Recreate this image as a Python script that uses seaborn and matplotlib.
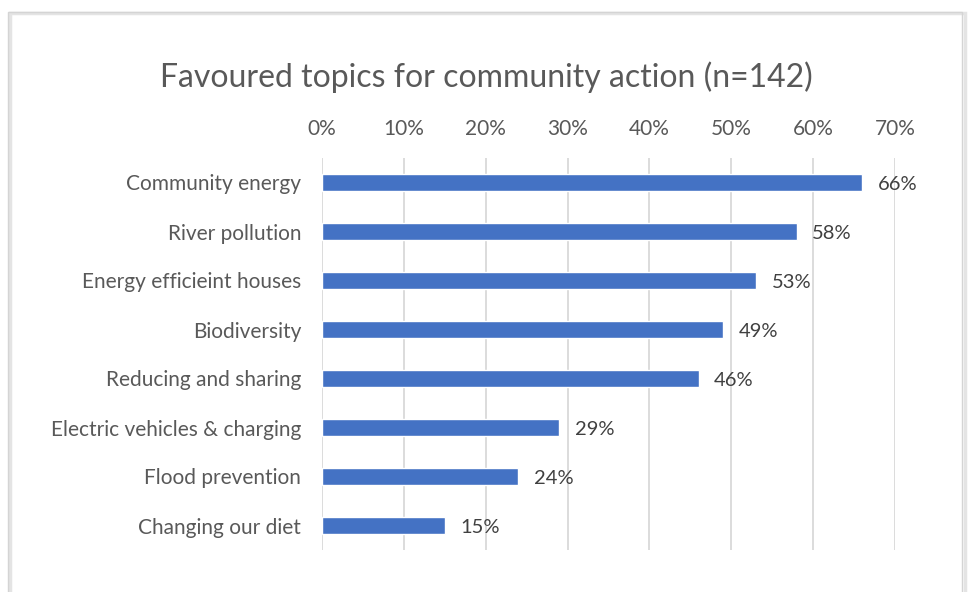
"""
Favoured topics for community action - horizontal bar chart
"""
import matplotlib
matplotlib.use("Agg")
import matplotlib.pyplot as plt
import matplotlib.patches as mpatches
import pandas as pd
import seaborn as sns
from matplotlib.ticker import PercentFormatter

topics = [
    "Community energy",
    "River pollution",
    "Energy efficieint houses",
    "Biodiversity",
    "Reducing and sharing",
    "Electric vehicles & charging",
    "Flood prevention",
    "Changing our diet",
]
shares = [66, 58, 53, 49, 46, 29, 24, 15]

BAR = "#4472C4"
GREY_TXT = "#595959"
GRID = "#d9d9d9"

sns.set_theme(style="white")
plt.rcParams["font.family"] = ["Lato", "DejaVu Sans"]

df = pd.DataFrame({"topic": topics, "share": shares})

fig = plt.figure(figsize=(9.68, 5.92), dpi=100, facecolor="white")

# chart frame with soft shadow (drawn as outlines only)
fig.patches.append(mpatches.Rectangle((10 / 968, -0.02), 955 / 968, 1 - 13 / 592 + 0.02,
                                      transform=fig.transFigure, fill=False,
                                      edgecolor="#e4e4e4", linewidth=2.5))
fig.patches.append(mpatches.Rectangle((8 / 968, -0.02), 954 / 968, 1 - 12 / 592 + 0.02,
                                      transform=fig.transFigure, fill=False,
                                      edgecolor="#d4d4d4", linewidth=1))

ax = fig.add_axes([322 / 968, 1 - 550 / 592, (895 - 322) / 968, (550 - 158) / 592])
ax.patch.set_alpha(0)

sns.barplot(data=df, x="share", y="topic", color=BAR, width=0.36, ax=ax,
            saturation=1, orient="h")

ax.set_xlim(0, 70)
ax.set_ylim(7.5, -0.5)
ax.xaxis.tick_top()
ax.xaxis.set_major_formatter(PercentFormatter(decimals=0))
ax.set_xticks(range(0, 71, 10))
ax.grid(axis="x", color=GRID, linewidth=1.3)
ax.set_axisbelow(True)
for s in ax.spines.values():
    s.set_visible(False)
ax.tick_params(axis="both", length=0, labelsize=15, colors=GREY_TXT)
ax.tick_params(axis="y", pad=15)
ax.tick_params(axis="x", pad=14)
ax.set_xlabel("")
ax.set_ylabel("")

for i, v in enumerate(shares):
    ax.text(v + 1.9, i + 0.04, f"{v}%", va="center", ha="left", fontsize=14.5,
            color="#404040")

fig.text(0.502, 1 - 77 / 592, "Favoured topics for community action (n=142)",
         ha="center", va="center", fontsize=23, color=GREY_TXT)

fig.savefig("out.png", dpi=100)
